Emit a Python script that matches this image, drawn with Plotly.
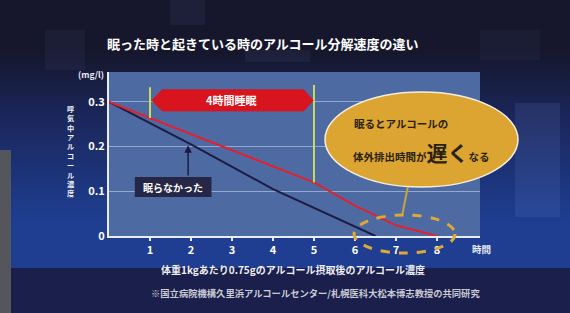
import plotly.graph_objects as go
import numpy as np

# ---- data ----
hours_awake = [0, 2, 4, 6.5]
conc_awake = [0.3, 0.205, 0.105, 0.0]
hours_sleep = [0, 5, 6, 7, 8]
conc_sleep = [0.3, 0.12, 0.068, 0.024, 0.0]
x_ticks = [1, 2, 3, 4, 5, 6, 7, 8]
y_ticks = [0, 0.1, 0.2, 0.3]
y_tick_labels = ["0", "0.1", "0.2", "0.3"]
sleep_start, sleep_end = 1, 5

title = "眠った時と起きている時のアルコール分解速度の違い"
x_title = "体重1kgあたり0.75gのアルコール摂取後のアルコール濃度"
y_title = "呼気中アルコール濃度"
footnote = "※国立病院機構久里浜アルコールセンター/札幌医科大松本博志教授の共同研究"

FONT = "Noto Sans CJK JP"
W, H = 570, 313
L, R, T, B = 109, 480, 72, 236


def px(x):
    return (x - L) / (R - L)


def py(y):
    return (B - y) / (B - T)


shapes = []
def blend(c1, c2, t):
    return "rgb(%d,%d,%d)" % tuple(int(a + (b - a) * t) for a, b in zip(c1, c2))

top_c = (22, 23, 44)
mid_c = (27, 38, 88)
low_c = (31, 62, 145)
for y0 in range(0, 270, 3):
    if y0 < 50:
        c = blend(top_c, top_c, 0)
    elif y0 < 110:
        c = blend(top_c, mid_c, (y0 - 50) / 60)
    else:
        c = blend(mid_c, low_c, min(1, (y0 - 110) / 110))
    shapes.append(dict(type="rect", xref="paper", yref="paper", layer="below",
                       x0=px(0), x1=px(W), y0=py(y0 + 3.5), y1=py(y0),
                       fillcolor=c, line_width=0))
shapes.append(dict(type="rect", xref="paper", yref="paper", layer="below",
                   x0=px(0), x1=px(W), y0=py(H), y1=py(268),
                   fillcolor="#1b1f4c", line_width=0))
shapes.append(dict(type="rect", xref="paper", yref="paper", layer="below",
                   x0=px(0), x1=px(11), y0=py(H), y1=py(150),
                   fillcolor="#55565c", line_width=0))
for (x0, y0, x1, y1, op) in [(515, 103, 560, 217, 0.10), (170, 0, 205, 25, 0.06),
                              (45, 30, 85, 70, 0.05), (245, 50, 310, 62, 0.06),
                              (480, 30, 540, 60, 0.04)]:
    shapes.append(dict(type="rect", xref="paper", yref="paper", layer="below",
                       x0=px(x0), x1=px(x1), y0=py(y1), y1=py(y0),
                       fillcolor="rgba(150,180,255,%s)" % op, line_width=0))
shapes.append(dict(type="rect", xref="paper", yref="paper", layer="below",
                   x0=0, x1=1, y0=0, y1=1, fillcolor="#4e6aa3", line_width=0))

for xv, ytop in [(sleep_start, 0.333), (sleep_end, 0.338)]:
    shapes.append(dict(type="line", xref="x", yref="y", x0=xv, x1=xv,
                       y0=float(np.interp(xv, hours_sleep, conc_sleep)), y1=ytop,
                       line=dict(color="#c9dc5c", width=2)))
shapes.append(dict(type="path", xref="x", yref="y",
                   path="M 1.05,0.3035 L 1.3,0.327 L 4.75,0.327 L 4.98,0.3035 L 4.75,0.280 L 1.3,0.280 Z",
                   fillcolor="#d8141e", line=dict(color="#d8141e", width=1)))
shapes.append(dict(type="rect", xref="x", yref="y", x0=0.63, x1=2.5, y0=0.087, y1=0.132,
                   fillcolor="#262647", line_width=0))
shapes.append(dict(type="line", xref="paper", yref="paper", x0=px(408), x1=px(402),
                   y0=py(186), y1=py(216), line=dict(color="#c9a23c", width=2)))
shapes.append(dict(type="circle", xref="paper", yref="paper",
                   x0=px(325), x1=px(518), y0=py(187), y1=py(92),
                   fillcolor="#dca431", line=dict(color="#f4eee0", width=1.5)))
shapes.append(dict(type="circle", xref="paper", yref="paper",
                   x0=px(354), x1=px(455), y0=py(253), y1=py(215),
                   fillcolor="rgba(0,0,0,0)", line=dict(color="#dca838", width=3, dash="dash")))

fig = go.Figure()
fig.add_trace(go.Scatter(x=hours_awake, y=conc_awake, mode="lines",
                         line=dict(color="#1c1c42", width=2), hoverinfo="skip"))
fig.add_trace(go.Scatter(x=hours_sleep, y=conc_sleep, mode="lines",
                         line=dict(color="#e3202c", width=2), hoverinfo="skip"))

ann = []


def text_at(text, x, y, size, color, xanchor="center", angle=0):
    ann.append(dict(text=text, xref="paper", yref="paper", x=px(x), y=py(y),
                    xanchor=xanchor, yanchor="middle", showarrow=False, textangle=angle,
                    font=dict(family=FONT, size=size, color=color)))


text_at("<b>" + title + "</b>", 263, 43, 13, "#ffffff")
ann.append(dict(text="<b>4時間睡眠</b>", xref="x", yref="y", x=3.0, y=0.3035, showarrow=False,
                xanchor="center", yanchor="middle",
                font=dict(family=FONT, size=11, color="#ffffff")))
ann.append(dict(text="<b>眠らなかった</b>", xref="x", yref="y", x=1.565, y=0.1095, showarrow=False,
                xanchor="center", yanchor="middle",
                font=dict(family=FONT, size=10, color="#ffffff")))
ann.append(dict(text="", xref="x", yref="y", x=1.93, y=0.203, ax=1.93, ay=0.132,
                axref="x", ayref="y", showarrow=True, arrowhead=2, arrowsize=1,
                arrowwidth=1.5, arrowcolor="#1c1c42"))
text_at("<b>眠るとアルコールの</b>", 352, 123, 10.5, "#2a2210", xanchor="left")
text_at("<b>体外排出時間が<span style='font-size:21px'>遅く</span>なる</b>", 351, 152, 10.5,
        "#2a2210", xanchor="left")
text_at("<b>(mg/l)</b>", 91, 74, 8.5, "#e8ecf5")
text_at("<b>時間</b>", 481, 249, 9.5, "#e8ecf5")
text_at("<b>" + x_title + "</b>", 293, 269, 10, "#eef0f6")
text_at("<b>" + footnote + "</b>", 315, 293, 9.3, "#c9cad4")
text_at("<b>" + "<br>".join(y_title) + "</b>", 71, 151, 7.2, "#eef0f6")

fig.update_layout(
    width=W, height=H, autosize=False,
    margin=dict(l=L, r=W - R, t=T, b=H - B, pad=0),
    paper_bgcolor="#1b2a5e", plot_bgcolor="rgba(0,0,0,0)",
    showlegend=False, shapes=shapes, annotations=ann,
    xaxis=dict(range=[0, 9.05], tickvals=x_ticks, ticks="outside", ticklen=3, tickwidth=1.5,
               tickcolor="#e8ecf5", showgrid=False, zeroline=False, showline=True,
               linecolor="#e8ecf5", linewidth=2, automargin=False,
               tickfont=dict(family=FONT, size=11, color="#ffffff", weight="bold")),
    yaxis=dict(range=[0, 0.367], tickvals=y_ticks, ticktext=y_tick_labels, ticks="",
               showgrid=True, gridcolor="#93a8cf", gridwidth=1, zeroline=False,
               showline=True, linecolor="#e8ecf5", linewidth=2, automargin=False,
               tickfont=dict(family=FONT, size=11, color="#ffffff", weight="bold")),
)
fig.write_html("out.html", config={"displayModeBar": False},
               post_script="document.body.style.margin='0';document.body.style.padding='0';")
